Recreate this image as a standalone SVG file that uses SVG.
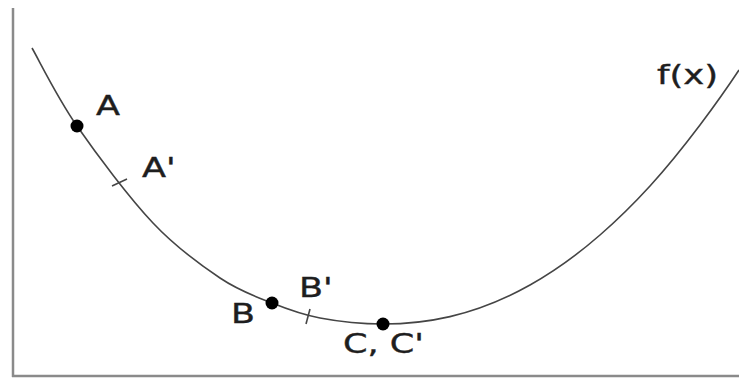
<svg xmlns="http://www.w3.org/2000/svg" width="739" height="378" viewBox="0 0 739 378">
<style>
.axis{stroke:#8a8a8a;stroke-width:2.5;fill:none}
.curve{stroke:#454545;stroke-width:1.6;fill:none}
.tick{stroke:#454545;stroke-width:1.6}
.dot{fill:#000}
.lbl{font-family:"DejaVu Sans",Verdana,sans-serif;font-size:27px;fill:#1e1e1e;stroke:#1e1e1e;stroke-width:0.4}
</style>
<rect width="739" height="378" fill="#fff"/>
<g id="axes">
<line class="axis" x1="13" y1="8" x2="13" y2="377"/>
<line class="axis" x1="12" y1="376" x2="739" y2="376"/>
</g>
<g id="connectors">
<path class="curve" d="M32,48 C39.5,61 56.8,96.8 77,126 C97.2,155.2 129.2,197.7 153,223 C176.8,248.3 200.2,264.7 220,278 C239.8,291.3 255.3,296.3 272,303 C288.7,309.7 301.5,314.5 320,318 C338.5,321.5 361.3,324 383,324 C405.3,324 427.7,321.8 450,316.6 C476.7,310.4 503.3,300 530,285 C553.3,271.9 576.7,255.3 600,235 C616.7,220.5 633.3,204.3 650,186 C666.7,167.7 683.3,147.1 700,125 C713,107.7 726,89.7 739,70"/>
</g>
<g id="A">
<circle class="dot" cx="77" cy="126" r="6.5"/>
<text class="lbl" x="96" y="115" textLength="24" lengthAdjust="spacingAndGlyphs">A</text>
</g>
<g id="A-prime">
<line class="tick" x1="112" y1="186" x2="127" y2="179"/>
<text class="lbl" x="142" y="177" textLength="33.7" lengthAdjust="spacingAndGlyphs">A'</text>
</g>
<g id="B">
<circle class="dot" cx="272" cy="303" r="6.5"/>
<text class="lbl" x="231" y="323" textLength="24" lengthAdjust="spacingAndGlyphs">B</text>
</g>
<g id="B-prime">
<line class="tick" x1="306" y1="324" x2="310" y2="309"/>
<text class="lbl" x="299" y="297" textLength="33.7" lengthAdjust="spacingAndGlyphs">B'</text>
</g>
<g id="C">
<circle class="dot" cx="383" cy="324" r="6.5"/>
<text class="lbl" x="343" y="353" textLength="81" lengthAdjust="spacingAndGlyphs">C, C'</text>
</g>
<g id="f">
<text class="lbl" x="657" y="84" textLength="61" lengthAdjust="spacingAndGlyphs">f(x)</text>
</g>
</svg>
